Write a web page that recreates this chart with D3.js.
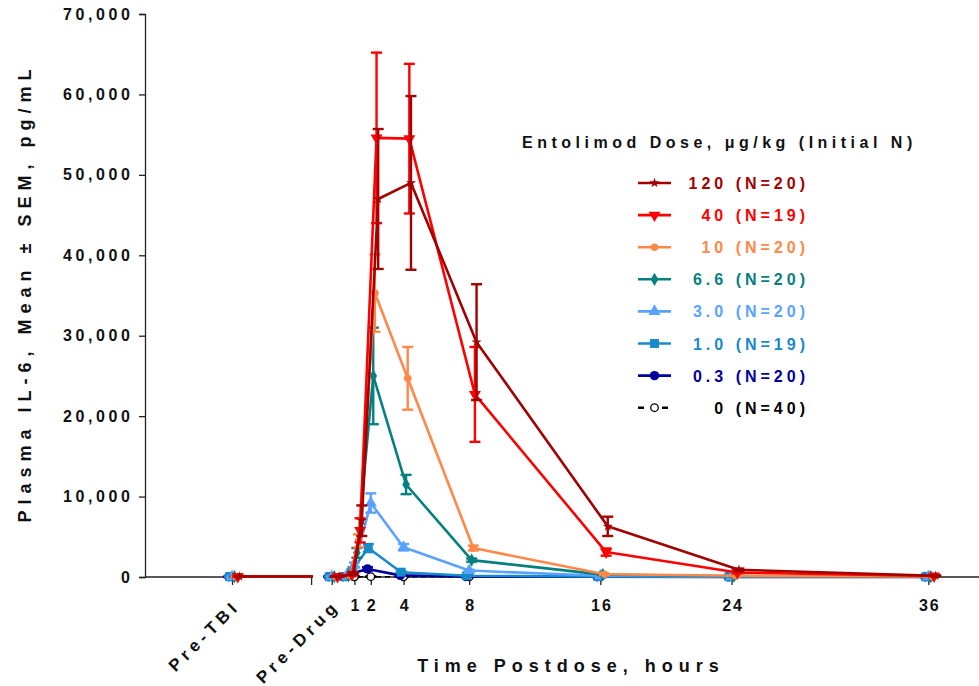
<!DOCTYPE html>
<html>
<head>
<meta charset="utf-8">
<script src="https://cdn.jsdelivr.net/npm/d3@7"></script>
<style>
  html, body { margin: 0; padding: 0; background: #fff; }
  svg { display: block; font-family: "Liberation Sans", Arial, sans-serif; font-weight: bold; }
</style>
</head>
<body>
<svg id="chart" width="979" height="686"></svg>
<script>
// Time slots: two pre-dose slots on a separate axis segment, then hours post-dose
const PRE_TBI = -3;
const PRE_DRUG = -0.38;
const timeHours = [PRE_TBI, PRE_DRUG, 0.5, 1, 2, 4, 8, 16, 24, 36];
const hourTicks = [1, 2, 4, 8, 16, 24, 36];
const yTicks = [0, 10000, 20000, 30000, 40000, 50000, 60000, 70000];

// Dose groups (legend order)
const doses = ["120", "40", "10", "6.6", "3.0", "1.0", "0.3", "0"];
const initialN = [20, 19, 20, 20, 20, 19, 20, 40];
const colors = ["#A30000", "#FF0000", "#FF8848", "#058080", "#5AA2FF", "#168ACB", "#00009E", "#000000"];
const symbols = ["star", "triDown", "circleSmall", "diamond", "triUp", "square", "circle", "open"];
// actual mean sampling time offset of each group relative to nominal time (hours)
const timeShift = [0.45, 0.35, 0.25, 0.15, 0.0, -0.15, -0.2, 0.0];

// Plasma IL-6 means (pg/mL) per group at each time slot
const mean120 = [60, 60, 400, 7000, 47000, 49000, 29200, 6300, 900, 150];
const mean40  = [60, 60, 300, 5800, 54600, 54500, 22700, 3100, 550, 120];
const mean10  = [40, 40, 200, 4500, 35300, 24700, 3600, 350, 150, 60];
const mean6_6 = [40, 40, 150, 3000, 25000, 11500, 2100, 300, 100, 50];
const mean3_0 = [40, 40, 100, 1500, 9200, 3700, 800, 150, 80, 50];
const mean1_0 = [40, 40, 60, 800, 3600, 600, 150, 60, 40, 30];
const mean0_3 = [30, 30, 40, 400, 1000, 200, 60, 30, 20, 20];
const mean0   = [20, 20, 20, 30, 40, 30, 20, 20, 20, 20];

// Standard errors of the mean
const sem120 = [20, 20, 150, 1900, 8700, 10800, 7200, 1200, 150, 50];
const sem40  = [20, 20, 100, 1500, 10600, 9300, 5900, 450, 100, 40];
const sem10  = [15, 15, 60, 800, 4800, 3900, 300, 80, 40, 20];
const sem6_6 = [15, 15, 50, 600, 6000, 1200, 200, 60, 30, 20];
const sem3_0 = [15, 15, 30, 300, 1200, 400, 100, 40, 20, 15];
const sem1_0 = [15, 15, 20, 150, 500, 100, 40, 20, 15, 10];
const sem0_3 = [10, 10, 15, 100, 200, 50, 20, 10, 10, 10];
const sem0   = [10, 10, 10, 10, 15, 10, 10, 10, 10, 10];

const means = [mean120, mean40, mean10, mean6_6, mean3_0, mean1_0, mean0_3, mean0];
const sems  = [sem120, sem40, sem10, sem6_6, sem3_0, sem1_0, sem0_3, sem0];

const svg = d3.select("#chart");

// Broken x axis: [pre-TBI segment] gap [pre-drug + hours segment]
const x = d3.scaleLinear()
  .domain([-4.1, -1.976, -0.488, 39.09])
  .range([145, 313, 330, 979]);
const y = d3.scaleLinear().domain([0, 70000]).range([577, 14]);
const hourPx = x(1) - x(0);

const AXIS = "#222";
const LS = 3.6;

// ---- Y axis
const yAxis = svg.append("g").attr("transform", "translate(145,0)")
  .call(d3.axisLeft(y).tickValues(yTicks).tickSize(6).tickPadding(9)
        .tickFormat(d3.format(",")));
yAxis.select(".domain").attr("stroke", AXIS).attr("stroke-width", 1.3);
yAxis.selectAll(".tick line").attr("stroke", AXIS).attr("stroke-width", 1.3);
yAxis.selectAll(".tick text")
  .attr("font-size", 16).attr("font-weight", "bold").attr("fill", "#111")
  .attr("font-family", "Liberation Sans, Arial, sans-serif")
  .style("letter-spacing", LS + "px").attr("dx", LS);

// ---- X axis (two segments)
const xAxisG = svg.append("g").attr("transform", "translate(0,577)");
xAxisG.call(d3.axisBottom(x)
  .tickValues([PRE_TBI, -2, PRE_DRUG].concat(hourTicks))
  .tickSize(8).tickPadding(15)
  .tickFormat(d => hourTicks.includes(d) ? String(d) : ""));
xAxisG.select(".domain").remove();
xAxisG.selectAll(".tick line").attr("stroke", AXIS).attr("stroke-width", 1.3);
xAxisG.selectAll(".tick text")
  .attr("font-size", 16).attr("font-weight", "bold").attr("fill", "#111")
  .attr("font-family", "Liberation Sans, Arial, sans-serif")
  .style("letter-spacing", "2px").attr("dx", 1).attr("dy", "0.71em");
[[-4.1, -1.976], [-0.488, 39.09]].forEach(([a, b]) => {
  xAxisG.append("line").attr("x1", x(a)).attr("x2", x(b)).attr("y1", 0).attr("y2", 0)
    .attr("stroke", AXIS).attr("stroke-width", 1.3);
});
// Rotated category labels
[[PRE_TBI, "Pre-TBI"], [PRE_DRUG, "Pre-Drug"]].forEach(([v, label]) => {
  svg.append("text")
    .attr("transform", `translate(${x(v) + 9},${607}) rotate(-45)`)
    .attr("text-anchor", "end")
    .attr("font-size", 17).attr("fill", "#111")
    .style("letter-spacing", "4.6px")
    .text(label);
});

// ---- Axis titles
svg.append("text")
  .attr("transform", "translate(31,293) rotate(-90)")
  .attr("text-anchor", "middle").attr("font-size", 18).attr("fill", "#111")
  .style("letter-spacing", "6px")
  .text("Plasma IL-6, Mean \u00B1 SEM, pg/mL");
svg.append("text")
  .attr("x", 571).attr("y", 672)
  .attr("text-anchor", "middle").attr("font-size", 18).attr("fill", "#111")
  .style("letter-spacing", "6px")
  .text("Time Postdose, hours");

// ---- Marker shapes
function marker(g, kind, color) {
  const sym = {
    star: [d3.symbolStar, 32, 0],
    triDown: [d3.symbolTriangle, 62, 180],
    circleSmall: [d3.symbolCircle, 45, 0],
    diamond: [d3.symbolDiamond, 50, 0],
    triUp: [d3.symbolTriangle, 65, 0],
    square: [d3.symbolSquare, 80, 0],
    circle: [d3.symbolCircle, 70, 0],
    open: [d3.symbolCircle, 45, 0]
  }[kind];
  const p = g.append("path")
    .attr("d", d3.symbol().type(sym[0]).size(sym[1])())
    .attr("transform", `rotate(${sym[2]})`);
  if (kind === "open") p.attr("fill", "#fff").attr("stroke", color).attr("stroke-width", 1.3);
  else p.attr("fill", color);
}

// ---- Clip for lines so the axis break stays empty
const defs = svg.append("defs");
const clip = defs.append("clipPath").attr("id", "brk");
clip.append("rect").attr("x", 0).attr("y", 0).attr("width", x(-1.976)).attr("height", 686);
clip.append("rect").attr("x", x(-0.488)).attr("y", 0).attr("width", 979 - x(-0.488)).attr("height", 686);

const plot = svg.append("g");
// draw lowest dose first so higher doses sit on top
for (let s = doses.length - 1; s >= 0; s--) {
  const color = colors[s];
  const pts = timeHours.map((t, i) => ({
    px: x(t) + timeShift[s] * hourPx,
    m: means[s][i],
    e: sems[s][i]
  }));
  const line = d3.line().x(d => d.px).y(d => y(d.m));
  plot.append("path").datum(pts)
    .attr("clip-path", "url(#brk)")
    .attr("fill", "none").attr("stroke", color)
    .attr("stroke-width", s === 7 ? 1.5 : 2.6)
    .attr("stroke-dasharray", s === 7 ? "5,4" : null)
    .attr("stroke-linejoin", "round")
    .attr("d", line);
  // error bars
  const eb = plot.append("g").attr("stroke", color).attr("stroke-width", 2.4);
  pts.forEach(d => {
    eb.append("line").attr("x1", d.px).attr("x2", d.px)
      .attr("y1", y(d.m - d.e)).attr("y2", y(d.m + d.e));
    [d.m - d.e, d.m + d.e].forEach(v => {
      eb.append("line").attr("x1", d.px - 5.5).attr("x2", d.px + 5.5)
        .attr("y1", y(v)).attr("y2", y(v));
    });
  });
  pts.forEach(d => {
    const g = plot.append("g").attr("transform", `translate(${d.px},${y(d.m)})`);
    marker(g, symbols[s], color);
  });
}

// ---- Legend
const legend = svg.append("g");
legend.append("text")
  .attr("x", 522).attr("y", 148).attr("font-size", 16).attr("fill", "#111")
  .style("letter-spacing", "4.5px")
  .text("Entolimod Dose, \u03BCg/kg (Initial N)");
doses.forEach((d, i) => {
  const cy = 183 + i * 32.1;
  const row = legend.append("g");
  if (i === 7) {
    row.append("line").attr("x1", 638).attr("x2", 671).attr("y1", cy).attr("y2", cy)
      .attr("stroke", colors[i]).attr("stroke-width", 2.6).attr("stroke-dasharray", "6,18");
  } else {
    row.append("line").attr("x1", 638).attr("x2", 671).attr("y1", cy).attr("y2", cy)
      .attr("stroke", colors[i]).attr("stroke-width", 2.6);
  }
  const g = row.append("g").attr("transform", `translate(654.5,${cy})`);
  marker(g, symbols[i], colors[i]);
  row.append("text")
    .attr("x", 805 + 4).attr("y", cy + 6)
    .attr("text-anchor", "end").attr("font-size", 16).attr("fill", colors[i])
    .style("letter-spacing", "4px")
    .text(`${d} (N=${initialN[i]})`);
});
</script>
</body>
</html>
